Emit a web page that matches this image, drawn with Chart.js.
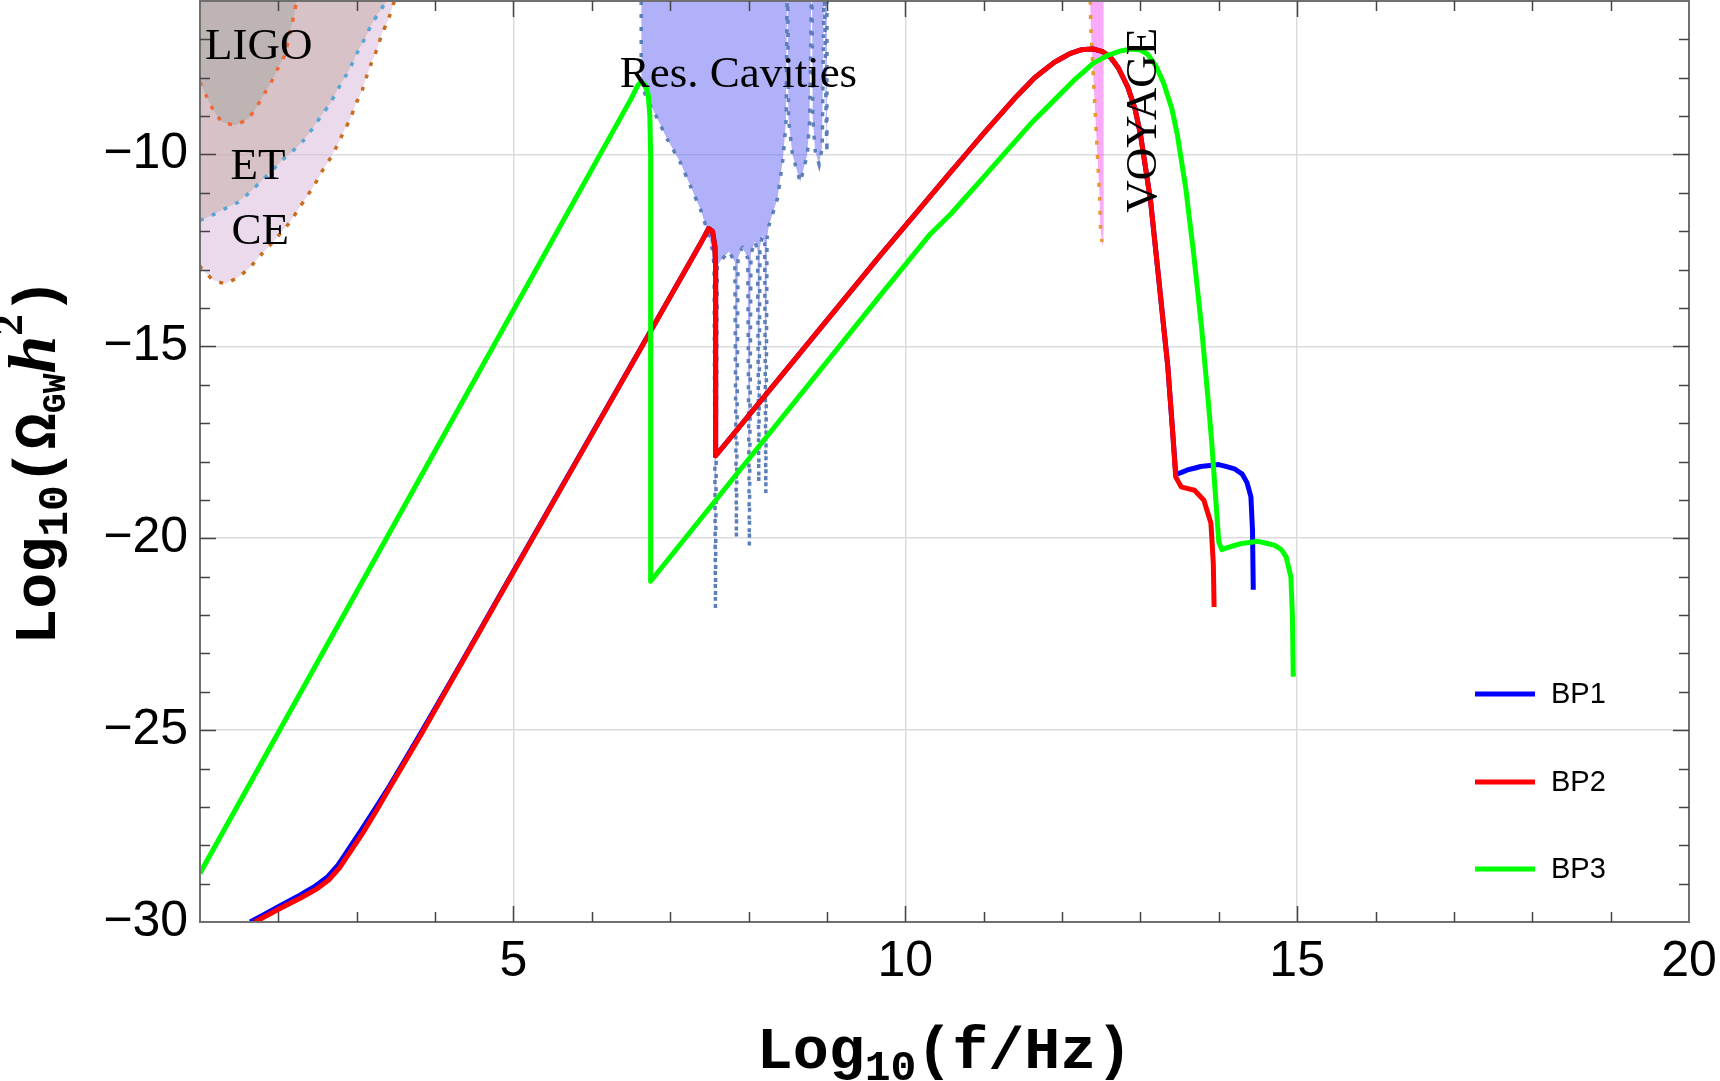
<!DOCTYPE html>
<html>
<head>
<meta charset="utf-8">
<script src="https://cdn.jsdelivr.net/npm/chart.js@4.4.1/dist/chart.umd.min.js"></script>
<style>
  html, body { margin: 0; padding: 0; background: #fff; }
  canvas { display: block; }
</style>
</head>
<body>
<canvas id="chart" width="1720" height="1081"></canvas>
<script>
// axis ticks
const xTickValues = [5, 10, 15, 20];
const xTickLabels = ['5', '10', '15', '20'];
const yTickValues = [-30, -25, -20, -15, -10];
const yTickLabels = ['−30', '−25', '−20', '−15', '−10'];

// benchmark spectra, log10(f/Hz) vs log10(Omega h^2)
const seriesNames = ['BP1', 'BP2', 'BP3'];
const bp1X = [1.64, 2.0, 2.25, 2.46, 2.63, 2.76, 2.89, 3.06, 3.25, 3.42, 3.84, 4.27, 4.78, 7.30, 7.40, 7.49, 7.54, 7.57, 7.58, 7.58,
  9.68, 10.54, 11.0, 11.39, 11.65, 11.9, 12.1, 12.25, 12.4, 12.52, 12.62, 12.72, 12.84, 12.93, 13.0, 13.13, 13.24, 13.35, 13.41, 13.45, 13.48,
  13.6, 13.77, 14.0, 14.2, 14.3, 14.36, 14.41, 14.43, 14.44];
const bp1Y = [-30, -29.6, -29.33, -29.08, -28.82, -28.52, -28.12, -27.6, -27.0, -26.45, -25.0, -23.48, -21.65, -12.63, -12.27, -11.93, -12.0, -12.4, -13.0, -17.85,
  -12.63, -10.55, -9.45, -8.55, -8.0, -7.6, -7.37, -7.27, -7.25, -7.32, -7.47, -7.75, -8.25, -8.8, -9.47, -11.22, -13.37, -15.54, -17.19, -18.3, -18.32,
  -18.22, -18.13, -18.08, -18.19, -18.33, -18.55, -18.92, -19.79, -21.34];
const bp2X = [1.70, 2.02, 2.27, 2.48, 2.65, 2.78, 2.91, 3.08, 3.25, 3.42, 3.84, 4.27, 4.78, 7.30, 7.40, 7.49, 7.54, 7.57, 7.58, 7.58,
  9.68, 10.54, 11.0, 11.39, 11.65, 11.9, 12.1, 12.25, 12.4, 12.52, 12.62, 12.72, 12.84, 12.93, 13.0, 13.13, 13.24, 13.35, 13.41, 13.45, 13.52,
  13.69, 13.81, 13.9, 13.93, 13.94];
const bp2Y = [-30, -29.65, -29.39, -29.15, -28.89, -28.59, -28.19, -27.67, -27.1, -26.5, -25.05, -23.5, -21.67, -12.63, -12.27, -11.93, -12.0, -12.4, -13.0, -17.85,
  -12.63, -10.55, -9.45, -8.55, -8.0, -7.6, -7.37, -7.27, -7.25, -7.32, -7.47, -7.75, -8.25, -8.8, -9.47, -11.22, -13.37, -15.54, -17.19, -18.4, -18.66,
  -18.75, -19.01, -19.61, -20.65, -21.79];
const bp3X = [1.0, 6.50, 6.58, 6.63, 6.68, 6.72, 6.74, 6.75, 6.75, 9.68, 10.32, 10.58, 10.96, 11.6, 12.15, 12.4, 12.58, 12.75, 12.88,
  13.0, 13.09, 13.2, 13.3, 13.4, 13.47, 13.58, 13.68, 13.78, 13.86, 13.91, 13.96, 14.0, 14.04, 14.1, 14.28, 14.5, 14.71, 14.8, 14.86,
  14.92, 14.94, 14.95];
const bp3Y = [-28.73, -8.55, -8.22, -8.10, -8.18, -8.45, -9.0, -10.0, -21.12, -13.67, -12.07, -11.55, -10.68, -9.2, -8.07, -7.62, -7.42, -7.3, -7.25,
  -7.28, -7.38, -7.7, -8.16, -8.8, -9.47, -10.9, -12.6, -14.5, -16.3, -17.5, -18.95, -20.1, -20.3, -20.25, -20.14, -20.08, -20.18, -20.3, -20.49,
  -21.01, -22.05, -23.61];

// detector sensitivity boundaries (region lies above the curve)
const ligoX = [1.0, 1.09, 1.17, 1.28, 1.45, 1.62, 1.72, 1.81, 1.92, 2.0, 2.09, 2.13, 2.17, 2.21, 2.23];
const ligoY = [-8.12, -8.51, -8.85, -9.16, -9.24, -9.07, -8.77, -8.46, -8.07, -7.73, -7.38, -6.99, -6.64, -6.25, -6.0];
const etX = [1.0, 1.15, 1.32, 1.49, 1.64, 1.77, 1.92, 2.04, 2.17, 2.32, 2.45, 2.55, 2.66, 2.75, 2.85, 2.94, 3.02, 3.11, 3.19, 3.30, 3.38];
const etY = [-11.72, -11.59, -11.41, -11.24, -10.98, -10.72, -10.42, -10.16, -9.94, -9.64, -9.29, -8.98, -8.68, -8.33, -7.99, -7.64, -7.29, -6.95, -6.6, -6.25, -6.0];
const ceX = [1.0, 1.02, 1.17, 1.32, 1.49, 1.64, 1.77, 1.89, 2.02, 2.15, 2.26, 2.36, 2.47, 2.55, 2.66, 2.75, 2.83, 2.92, 2.98, 3.07,
  3.13, 3.19, 3.26, 3.32, 3.40, 3.48];
const ceY = [-12.9, -12.98, -13.28, -13.37, -13.2, -12.94, -12.63, -12.37, -12.07, -11.76, -11.41, -11.11, -10.76, -10.46, -10.11, -9.77,
  -9.42, -9.07, -8.72, -8.33, -7.94, -7.6, -7.25, -6.86, -6.51, -6.0];
const resX = [6.63, 6.63, 6.70, 6.79, 6.96, 7.13, 7.26, 7.39, 7.47, 7.54, 7.56, 7.577, 7.60, 7.64, 7.75, 7.825, 7.845, 7.865,
  7.92, 7.99, 8.01, 8.03, 8.08, 8.115, 8.13, 8.145, 8.18, 8.205, 8.22, 8.235, 8.26, 8.37, 8.44, 8.48, 8.49, 8.50, 8.51,
  8.56, 8.66, 8.75, 8.78, 8.80, 8.81, 8.82, 8.85, 8.90, 8.94, 8.96, 8.97, 8.99, 9.0, 9.0];
const resY = [-6, -8.1, -8.55, -8.87, -9.59, -10.21, -10.83, -11.45, -11.96, -12.5, -12.9, -21.84, -12.9, -12.78, -12.53, -12.8, -19.99, -12.7,
  -12.42, -12.7, -20.2, -12.6, -12.26, -12.5, -18.55, -12.4, -12.11, -12.3, -18.85, -12.2, -11.85, -11.14, -10.1, -9.08, -6, -6, -9.08,
  -10.0, -10.72, -10.0, -9.08, -6, -6, -9.08, -9.9, -10.26, -9.8, -6, -6, -9.08, -9.95, -6];
const voyX = [12.36, 12.37, 12.40, 12.42, 12.44, 12.46, 12.48, 12.49, 12.51, 12.52, 12.53, 12.53];
const voyY = [-6, -6.82, -7.99, -8.77, -9.55, -10.33, -11.11, -11.89, -12.28, -12.45, -12.0, -6];

const regionLabels = ['LIGO', 'ET', 'CE', 'Res. Cavities', 'VOYAGE'];

const pts = (xs, ys) => xs.map((x, i) => ({x: x, y: ys[i]}));

const curve = (label, xs, ys, color, order) => ({
  label: label,
  data: pts(xs, ys),
  borderColor: color,
  backgroundColor: color,
  borderWidth: 5,
  borderJoinStyle: 'round',
  pointRadius: 0,
  tension: 0.0001,
  fill: false,
  order: order
});

const region = (xs, ys, fillColor, dotColor, order) => ({
  data: pts(xs, ys),
  borderColor: dotColor,
  backgroundColor: fillColor,
  borderWidth: 3.5,
  borderDash: [4, 9],
  pointRadius: 0,
  tension: 0.0001,
  fill: 'end',
  order: order
});

const datasets = [
  curve(seriesNames[0], bp1X, bp1Y, '#0000ff', 3),
  curve(seriesNames[1], bp2X, bp2Y, '#ff0000', 2),
  curve(seriesNames[2], bp3X, bp3Y, '#00ff00', 1),
  region(ceX, ceY, 'rgba(213,181,215,0.5)', '#c96d1e', 10),
  region(etX, etY, 'rgba(198,172,163,0.5)', '#5aa5d6', 9),
  region(ligoX, ligoY, 'rgba(166,167,159,0.5)', '#f06838', 8),
  region(resX, resY, 'rgba(100,100,245,0.5)', '#5b7fb8', 7),
  {
    data: pts(voyX, voyY), backgroundColor: 'rgba(245,85,245,0.5)', borderWidth: 0,
    pointRadius: 0, tension: 0.0001, fill: 'shape', order: 6
  },
  {
    data: pts(voyX.slice(0, 9), voyY.slice(0, 9)), borderColor: '#e89a2a', borderWidth: 3.5,
    borderDash: [4, 10], pointRadius: 0, tension: 0.0001, fill: false, order: 5
  }
];

function drawPieces(ctx, pieces) {
  let total = 0;
  for (const p of pieces) {
    ctx.font = p[1];
    p.w = ctx.measureText(p[0]).width;
    total += p.w;
  }
  let x = -total / 2;
  for (const p of pieces) {
    ctx.font = p[1];
    ctx.fillText(p[0], x, p[2]);
    x += p.w;
  }
}

const decorations = {
  id: 'decorations',
  afterDraw(chart) {
    const {ctx, chartArea: a, scales: {x, y}} = chart;
    ctx.save();
    ctx.fillStyle = '#000';

    // labels of the sensitivity regions
    const spots = [[1.75, -7.15], [1.74, -10.28], [1.77, -11.98], [7.87, -7.88], [13.02, -9.11]];
    ctx.font = '45px "Liberation Serif"';
    ctx.textAlign = 'center';
    ctx.textBaseline = 'middle';
    regionLabels.forEach((t, i) => {
      const px = x.getPixelForValue(spots[i][0]);
      const py = y.getPixelForValue(spots[i][1]);
      ctx.save();
      ctx.translate(px, py);
      if (t === 'VOYAGE') ctx.rotate(-Math.PI / 2);
      ctx.fillText(t, 0, 2);
      ctx.restore();
    });

    // frame with inward ticks
    ctx.strokeStyle = '#707070';
    ctx.lineWidth = 2;
    ctx.strokeRect(a.left, a.top, a.right - a.left, a.bottom - a.top);
    ctx.strokeStyle = '#444';
    ctx.lineWidth = 1.5;
    ctx.beginPath();
    for (let v = 2; v < 20; v++) {
      const len = v % 5 === 0 ? 16 : 10;
      const px = Math.round(x.getPixelForValue(v)) + 0.5;
      ctx.moveTo(px, a.bottom); ctx.lineTo(px, a.bottom - len);
      ctx.moveTo(px, a.top); ctx.lineTo(px, a.top + len);
    }
    for (let v = -29; v < -6; v++) {
      const len = v % 5 === 0 ? 16 : 10;
      const py = Math.round(y.getPixelForValue(v)) + 0.5;
      ctx.moveTo(a.left, py); ctx.lineTo(a.left + len, py);
      ctx.moveTo(a.right, py); ctx.lineTo(a.right - len, py);
    }
    ctx.stroke();

    // legend
    ctx.textAlign = 'left';
    ctx.font = '29px "Liberation Sans"';
    const legendY = [693, 781, 868];
    for (let i = 0; i < 3; i++) {
      const ly = a.top + legendY[i];
      ctx.strokeStyle = chart.data.datasets[i].borderColor;
      ctx.lineWidth = 5;
      ctx.beginPath();
      ctx.moveTo(a.right - 214, ly);
      ctx.lineTo(a.right - 154, ly);
      ctx.stroke();
      ctx.fillText(seriesNames[i], a.right - 138, ly + 1);
    }

    // axis titles
    const mono = 'bold 60px "Liberation Mono"';
    const monoSub = 'bold 43px "Liberation Mono"';
    ctx.textAlign = 'left';
    ctx.textBaseline = 'alphabetic';
    ctx.save();
    ctx.translate((a.left + a.right) / 2, 1068);
    drawPieces(ctx, [['Log', mono, 0], ['10', monoSub, 12], ['(f/Hz)', mono, 0]]);
    ctx.restore();

    ctx.save();
    ctx.translate(55, (a.top + a.bottom) / 2);
    ctx.rotate(-Math.PI / 2);
    drawPieces(ctx, [
      ['Log', mono, 0], ['10', monoSub, 12], ['(', mono, 0], ['Ω', mono, 0],
      ['GW', 'bold 33px "Liberation Mono"', 10], ['h', 'bold italic 68px "Liberation Serif"', 0],
      ['2', 'bold 43px "Liberation Serif"', -33], [')', mono, 0]
    ]);
    ctx.restore();

    ctx.restore();
  }
};

new Chart(document.getElementById('chart'), {
  type: 'line',
  data: { datasets: datasets },
  options: {
    responsive: false,
    animation: false,
    events: [],
    layout: { padding: { top: 1, right: 31, left: 0, bottom: 0 } },
    plugins: {
      legend: { display: false },
      tooltip: { enabled: false }
    },
    scales: {
      x: {
        type: 'linear',
        min: 1,
        max: 20,
        afterFit: (s) => { s.height = 159; s.paddingLeft = 0; s.paddingRight = 0; },
        border: { display: false },
        grid: {
          drawTicks: false,
          lineWidth: 1.5,
          color: (c) => (c.tick && c.tick.value % 5 === 0 && c.tick.value < 20) ? '#dcdcdc' : 'rgba(0,0,0,0)'
        },
        ticks: {
          stepSize: 1,
          autoSkip: false,
          maxRotation: 0,
          minRotation: 0,
          padding: 10,
          color: '#000',
          font: { family: 'Liberation Sans', size: 50 },
          callback: (v) => {
            const i = xTickValues.indexOf(v);
            return i >= 0 ? xTickLabels[i] : '';
          }
        }
      },
      y: {
        type: 'linear',
        min: -30,
        max: -6,
        afterFit: (s) => { s.width = 200; s.paddingTop = 0; s.paddingBottom = 0; },
        border: { display: false },
        grid: {
          drawTicks: false,
          lineWidth: 1.5,
          color: (c) => (c.tick && c.tick.value % 5 === 0 && c.tick.value > -30) ? '#dcdcdc' : 'rgba(0,0,0,0)'
        },
        ticks: {
          stepSize: 1,
          autoSkip: false,
          padding: 12,
          color: '#000',
          font: { family: 'Liberation Sans', size: 50 },
          callback: (v) => {
            const i = yTickValues.indexOf(v);
            return i >= 0 ? yTickLabels[i] : '';
          }
        }
      }
    }
  },
  plugins: [decorations]
});
</script>
</body>
</html>
